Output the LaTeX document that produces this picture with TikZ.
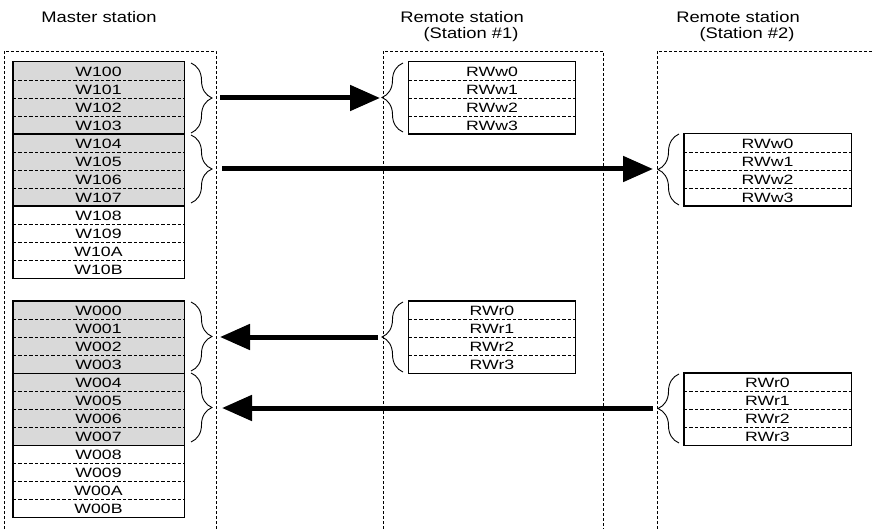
\documentclass[tikz,border=0pt]{standalone}
\usepackage{fontspec}
\setmainfont{Liberation Sans}
\newfontfamily\cellfont{Liberation Sans}[FakeStretch=1.31]
\newfontfamily\hdrfont{Liberation Sans}[FakeStretch=1.2]
\usetikzlibrary{arrows.meta, decorations.pathreplacing}
\definecolor{regfill}{RGB}{217,217,217}

\begin{document}
\begin{tikzpicture}[x=1pt, y=-1pt,
    cell/.style={minimum width=171pt, minimum height=18pt, inner sep=0pt,
                 text height=11.6pt, text depth=0pt,
                 font=\cellfont\fontsize{13.5}{14}\selectfont},
    rcell/.style={cell, minimum width=167pt},
    hdr/.style={inner sep=0pt, font=\hdrfont\fontsize{15.3}{17}\selectfont},
    stnframe/.style={line width=0.8pt, dash pattern=on 3pt off 2pt},
    rowsep/.style={line width=1.2pt, dash pattern=on 3.5pt off 2pt},
    border/.style={line width=1.4pt},
    brc/.style={decorate, decoration={brace, amplitude=21pt}, line width=0.9pt},
    flow/.style={line width=5pt, -{Triangle[length=30pt, width=25pt]}}
  ]
    \useasboundingbox (0,0) rectangle (874,529);

    % titles
    \node[hdr] (mtitle) at (99,17) {Master station};
    \node[hdr] (r1title) at (462,17) {Remote station};
    \node[hdr] (r1sub) at (471,35) {(Station \#1)};
    \node[hdr] (r2title) at (738,17) {Remote station};
    \node[hdr] (r2sub) at (747,35) {(Station \#2)};

    % station frames
    \draw[stnframe] (4,529) |- (216,51) -- (216,529);
    \draw[stnframe] (383,529) |- (603,51) -- (603,529);
    \draw[stnframe] (657,529) |- (880,51);

    % master: link devices W100..W10B
    \foreach \lbl [count=\i] in {W100,W101,W102,W103,W104,W105,W106,W107}
      \node[cell, fill=regfill] (wa\i) at (98.5,53+18*\i) {\lbl};
    \foreach \lbl [count=\i from 9] in {W108,W109,W10A,W10B}
      \node[cell] (wa\i) at (98.5,53+18*\i) {\lbl};
    \foreach \i in {1,2,3,5,6,7,9,10,11}
      \draw[rowsep] (wa\i.south west) -- (wa\i.south east);
    \foreach \i in {4,8}
      \draw[border] (wa\i.south west) -- (wa\i.south east);
    \draw[border] (wa1.north west) rectangle (wa12.south east);

    % master: link devices W000..W00B
    \foreach \lbl [count=\i] in {W000,W001,W002,W003,W004,W005,W006,W007}
      \node[cell, fill=regfill] (wb\i) at (98.5,292+18*\i) {\lbl};
    \foreach \lbl [count=\i from 9] in {W008,W009,W00A,W00B}
      \node[cell] (wb\i) at (98.5,292+18*\i) {\lbl};
    \foreach \i in {1,2,3,5,6,7,9,10,11}
      \draw[rowsep] (wb\i.south west) -- (wb\i.south east);
    \foreach \i in {4,8}
      \draw[border] (wb\i.south west) -- (wb\i.south east);
    \draw[border] (wb1.north west) rectangle (wb12.south east);

    % remote registers
    \foreach \i in {1,2,3,4} {
      \pgfmathtruncatemacro{\k}{\i-1}
      \node[rcell] (sow\i) at (492,53+18*\i) {RWw\k};
      \node[rcell] (stw\i) at (767.5,125+18*\i) {RWw\k};
      \node[rcell] (sor\i) at (492,292+18*\i) {RWr\k};
      \node[rcell] (str\i) at (767.5,364+18*\i) {RWr\k};
    }
    \foreach \t in {sow,stw,sor,str} {
      \foreach \i in {1,2,3}
        \draw[rowsep] (\t\i.south west) -- (\t\i.south east);
      \draw[border] (\t1.north west) rectangle (\t4.south east);
    }

    % braces
    \draw[brc] (191,63) -- (191,133);
    \draw[brc] (191,135) -- (191,203);
    \draw[brc] (191,302) -- (191,371);
    \draw[brc] (191,373) -- (191,442);
    \draw[brc] (403,132) -- (403,63);
    \draw[brc] (679,205) -- (679,134);
    \draw[brc] (403,372) -- (403,302);
    \draw[brc] (679,443) -- (679,374);

    \coordinate (bw1) at (212,98);
    \coordinate (bw2) at (212,169);
    \coordinate (br1) at (212,337);
    \coordinate (br2) at (212,408);
    \coordinate (tow) at (382,98);
    \coordinate (ttw) at (658,169);
    \coordinate (tor) at (382,337);
    \coordinate (ttr) at (658,408);

    % data flow
    \draw[flow, shorten <=8pt, shorten >=2pt] (bw1) -- (tow);
    \draw[flow, shorten <=10pt, shorten >=5pt] (bw2) -- (ttw);
    \draw[flow, shorten <=4pt, shorten >=8pt] (tor) -- (br1);
    \draw[flow, shorten <=5pt, shorten >=10pt] (ttr) -- (br2);
  \end{tikzpicture}
\end{document}
